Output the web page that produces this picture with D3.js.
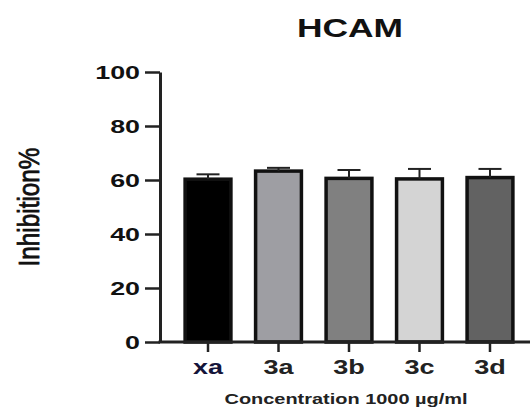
<!DOCTYPE html>
<html>
<head>
<meta charset="utf-8">
<script src="https://cdn.jsdelivr.net/npm/d3@7"></script>
<style>
  body { margin: 0; background: #fff; }
  text { font-family: Arial, "Liberation Sans", sans-serif; }
</style>
</head>
<body>
<svg id="chart" width="530" height="407"></svg>
<script>
// data
const categories = ['xa', '3a', '3b', '3c', '3d']
const means = [60.3, 63.3, 60.6, 60.4, 60.9]
const errors = [1.8, 1.2, 3.1, 3.7, 3.2]
const fills = ['#000000', '#9e9ea3', '#808080', '#d4d4d4', '#626262']
const yTicks = [0, 20, 40, 60, 80, 100]

const svg = d3.select('#chart')
const W = 530
const axisX = 160

const x = d3.scaleBand().domain(categories).range([171, 527]).paddingInner(0.35).paddingOuter(0.2)
const y = d3.scaleLinear().domain([0, 100]).range([342, 72])

// the source picture is stretched sideways, so widen glyphs the same way
function stretch(sel, k) {
  sel.each(function () {
    const w = this.getComputedTextLength()
    d3.select(this).attr('textLength', w * k).attr('lengthAdjust', 'spacingAndGlyphs')
  })
}

const g = svg.append('g')

// y axis
const yAxis = g.append('g')
  .attr('transform', `translate(${axisX},0)`)
  .call(d3.axisLeft(y).tickValues(yTicks).tickSize(15).tickSizeOuter(0))
yAxis.select('.domain').attr('stroke', '#222').attr('stroke-width', 3)
yAxis.selectAll('.tick line').attr('stroke', '#222').attr('stroke-width', 2.5)
yAxis.selectAll('.tick text')
  .attr('x', -20)
  .attr('dy', '0.36em')
  .attr('font-size', 18.5)
  .attr('font-weight', 'bold')
  .attr('fill', '#111')
  .style('font-family', 'Arial, "Liberation Sans", sans-serif')
  .call(stretch, 1.45)

// bars
g.selectAll('rect.bar')
  .data(categories)
  .join('rect')
  .attr('class', 'bar')
  .attr('x', (d) => x(d))
  .attr('width', x.bandwidth())
  .attr('y', (d, i) => y(means[i]))
  .attr('height', (d, i) => y(0) - y(means[i]))
  .attr('fill', (d, i) => fills[i])
  .attr('stroke', '#111')
  .attr('stroke-width', 3.5)

// error bars (upper only)
const cap = 11.5
categories.forEach((c, i) => {
  const cx = x(c) + x.bandwidth() / 2
  g.append('line')
    .attr('x1', cx).attr('x2', cx)
    .attr('y1', y(means[i])).attr('y2', y(means[i] + errors[i]))
    .attr('stroke', '#222').attr('stroke-width', 2)
  g.append('line')
    .attr('x1', cx - cap).attr('x2', cx + cap)
    .attr('y1', y(means[i] + errors[i])).attr('y2', y(means[i] + errors[i]))
    .attr('stroke', '#222').attr('stroke-width', 2)
})

// x axis
const xAxis = g.append('g')
  .attr('transform', `translate(0,${y(0)})`)
  .call(d3.axisBottom(x).tickSize(10).tickSizeOuter(0))
xAxis.select('.domain').attr('d', `M${axisX - 1.5},0H${W}`).attr('stroke', '#222').attr('stroke-width', 3)
xAxis.selectAll('.tick line').attr('stroke', '#222').attr('stroke-width', 2.5)
xAxis.selectAll('.tick text')
  .attr('y', 32)
  .attr('dy', 0)
  .attr('font-size', 20)
  .attr('font-weight', 'bold')
  .attr('fill', (d) => d === 'xa' ? '#14143a' : '#222')
  .style('font-family', 'Arial, "Liberation Sans", sans-serif')
  .call(stretch, 1.35)

// title
svg.append('text')
  .attr('x', 350).attr('y', 37)
  .attr('text-anchor', 'middle')
  .attr('font-size', 26)
  .attr('font-weight', 'bold')
  .attr('fill', '#111')
  .text('HCAM')
  .call(stretch, 1.36)

// x label
svg.append('text')
  .attr('x', 346).attr('y', 404)
  .attr('text-anchor', 'middle')
  .attr('font-size', 14)
  .attr('font-weight', 'bold')
  .attr('fill', '#222')
  .attr('textLength', 243)
  .attr('lengthAdjust', 'spacingAndGlyphs')
  .text('Concentration 1000 µg/ml')

// y label
svg.append('text')
  .attr('transform', 'translate(39,207) rotate(-90)')
  .attr('text-anchor', 'middle')
  .attr('font-size', 29)
  .attr('fill', '#111')
  .attr('stroke', '#111')
  .attr('stroke-width', 0.8)
  .attr('textLength', 119)
  .attr('lengthAdjust', 'spacingAndGlyphs')
  .text('Inhibition%')
</script>
</body>
</html>
